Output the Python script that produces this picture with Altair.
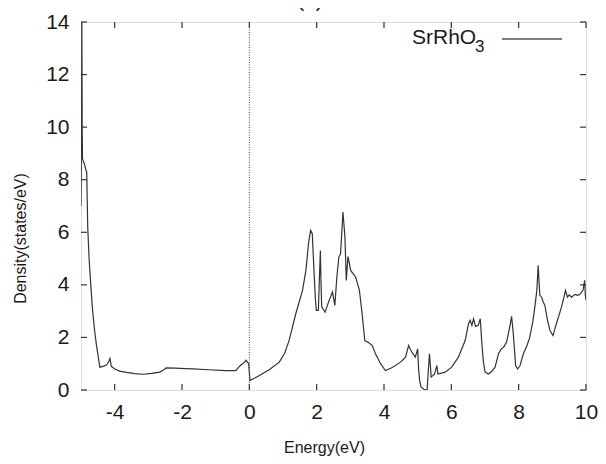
import altair as alt
import pandas as pd

# Energy (eV) and density of states (states/eV)
energy = [
    -5.0, -4.985, -4.975, -4.965, -4.955, -4.93, -4.9, -4.86, -4.83, -4.8, -4.76, -4.71,
    -4.66, -4.6, -4.54, -4.48, -4.44, -4.35, -4.24, -4.17, -4.14, -4.1, -4.0, -3.85,
    -3.65, -3.4, -3.16, -2.9, -2.66, -2.55, -2.47, -2.2, -1.9, -1.68, -1.2, -0.69,
    -0.4, -0.33, -0.25, -0.15, -0.1, -0.05, -0.02, 0.02, 0.3, 0.6, 0.89, 1.05,
    1.18, 1.38, 1.58, 1.68, 1.76, 1.82, 1.87, 1.9, 1.92, 1.96, 1.99, 2.05,
    2.08, 2.11, 2.13, 2.15, 2.25, 2.37, 2.47, 2.54, 2.6, 2.66, 2.71, 2.78,
    2.84, 2.88, 2.93, 3.01, 3.16, 3.27, 3.35, 3.43, 3.55, 3.65, 3.75, 3.9,
    4.04, 4.2, 4.34, 4.5, 4.64, 4.73, 4.8, 4.83, 4.93, 5.0, 5.03, 5.06,
    5.1, 5.18, 5.28, 5.32, 5.35, 5.38, 5.4, 5.5, 5.57, 5.6, 5.82, 6.01,
    6.21, 6.41, 6.51, 6.56, 6.61, 6.66, 6.72, 6.8, 6.86, 6.9, 6.95, 7.0,
    7.1, 7.2, 7.3, 7.4, 7.49, 7.55, 7.64, 7.72, 7.79, 7.84, 7.91, 7.97,
    8.04, 8.14, 8.25, 8.33, 8.42, 8.48, 8.54, 8.58, 8.61, 8.63, 8.68, 8.73,
    8.78, 8.85, 8.93, 9.02, 9.12, 9.2, 9.27, 9.33, 9.39, 9.45, 9.5, 9.57,
    9.67, 9.75, 9.82, 9.91, 9.96, 9.98, 10.0,
]
density = [
    7.0, 9.5, 14.5, 9.9, 8.8, 8.7, 8.6, 8.4, 8.3, 6.2, 5.0, 4.0,
    3.1, 2.3, 1.7, 1.2, 0.87, 0.9, 0.95, 1.1, 1.2, 0.9, 0.8, 0.72,
    0.67, 0.62, 0.6, 0.63, 0.68, 0.76, 0.84, 0.83, 0.81, 0.8, 0.77, 0.74,
    0.74, 0.85, 0.95, 1.05, 1.13, 1.05, 1.0, 0.36, 0.55, 0.78, 1.06, 1.4,
    1.88, 2.9, 3.79, 4.55, 5.6, 6.07, 5.95, 5.1, 4.55, 3.5, 3.03, 3.03,
    4.2, 5.31, 4.0, 3.16, 2.96, 3.41, 3.73, 3.22, 4.3, 5.06, 5.18, 6.77,
    5.82, 4.17, 5.08, 4.55, 4.29, 3.79, 2.9, 1.88, 1.8, 1.69, 1.37, 1.0,
    0.74, 0.83, 0.93, 1.07, 1.25, 1.69, 1.5, 1.44, 1.25, 1.56, 0.74, 0.35,
    0.12, 0.03, 0.0, 0.8, 1.38, 0.9, 0.49, 0.6, 0.93, 0.61, 0.68, 0.87,
    1.25, 1.88, 2.52, 2.65, 2.46, 2.71, 2.42, 2.46, 2.71, 1.88, 1.1, 0.68,
    0.61, 0.7, 0.87, 1.38, 1.57, 1.62, 1.82, 2.3, 2.8, 2.14, 0.93, 0.8,
    0.93, 1.38, 1.7, 2.01, 2.6, 3.15, 3.8, 4.74, 4.0, 3.6, 3.53, 3.35,
    3.21, 2.7, 2.26, 2.07, 2.52, 2.85, 3.15, 3.45, 3.79, 3.53, 3.62, 3.53,
    3.64, 3.6, 3.64, 3.79, 4.17, 3.6, 3.41,
]

x_ticks = [-4, -2, 0, 2, 4, 6, 8, 10]
y_ticks = [0, 2, 4, 6, 8, 10, 12, 14]
x_domain = [-5, 10]
y_domain = [0, 14]
fermi = [0]
series_name = "SrRhO"
series_sub = "3"
panel_label = "(a)"

W, H = 505, 368
FONT = "Liberation Sans"
TXT = "#1a1a1a"

xs = alt.Scale(domain=x_domain, nice=False, zero=False)
ys = alt.Scale(domain=y_domain, nice=False, zero=False)

df = pd.DataFrame({"x": energy, "y": density})
dxt = pd.DataFrame({"x": x_ticks})
dyt = pd.DataFrame({"y": y_ticks})

line = alt.Chart(df).mark_line(color="#333333", strokeWidth=1.2, clip=True).encode(
    x=alt.X("x:Q", scale=xs, axis=alt.Axis(
        values=x_ticks, title="Energy(eV)", labelFontSize=21, labelFont=FONT,
        labelColor=TXT, labelPadding=11, ticks=False, tickSize=0, domain=False,
        grid=False, titleFont=FONT, titleFontSize=16, titleFontWeight="normal",
        titleColor=TXT, titleX=243, titleY=57, titleAlign="center",
        titleBaseline="middle", labelFlush=False, labelExpr="'' + datum.value")),
    y=alt.Y("y:Q", scale=ys, axis=alt.Axis(
        values=y_ticks, title="Density(states/eV)", labelFontSize=21, labelFont=FONT,
        labelColor=TXT, labelPadding=12, ticks=False, tickSize=0, domain=False,
        grid=False, titleFont=FONT, titleFontSize=16, titleFontWeight="normal",
        titleColor=TXT, titleAngle=270, titleX=-61, titleY=216,
        titleAlign="center", titleBaseline="middle", labelFlush=False,
        labelExpr="'' + datum.value")),
)

zero_line = alt.Chart(pd.DataFrame({"x": fermi})).mark_rule(
    color="#444444", strokeWidth=1, strokeDash=[1, 1.5]
).encode(x=alt.X("x:Q", scale=xs))

bottom_ticks = alt.Chart(dxt).mark_rule(color="#333333", strokeWidth=1.2).encode(
    x=alt.X("x:Q", scale=xs), y=alt.value(H), y2=alt.value(H - 6))
top_ticks = alt.Chart(dxt).mark_rule(color="#333333", strokeWidth=1.2).encode(
    x=alt.X("x:Q", scale=xs), y=alt.value(0), y2=alt.value(6))
left_ticks = alt.Chart(dyt).mark_rule(color="#333333", strokeWidth=1.2).encode(
    y=alt.Y("y:Q", scale=ys), x=alt.value(0), x2=alt.value(6))
right_ticks = alt.Chart(dyt).mark_rule(color="#333333", strokeWidth=1.2).encode(
    y=alt.Y("y:Q", scale=ys), x=alt.value(W), x2=alt.value(W - 6))

leg_df = pd.DataFrame({"name": [series_name], "sub": [series_sub], "lab": [panel_label]})
leg_text = alt.Chart(leg_df).mark_text(
    font=FONT, fontSize=21, color=TXT, align="left", baseline="alphabetic"
).encode(text="name:N", x=alt.value(331), y=alt.value(21.5))
leg_sub = alt.Chart(leg_df).mark_text(
    font=FONT, fontSize=17, color=TXT, align="left", baseline="alphabetic"
).encode(text="sub:N", x=alt.value(394), y=alt.value(29.5))
leg_line = alt.Chart(leg_df).mark_rule(color="#555555", strokeWidth=1.5).encode(
    x=alt.value(421), x2=alt.value(481), y=alt.value(17))
title_text = alt.Chart(leg_df).mark_text(
    font=FONT, fontSize=21, color=TXT, align="center", baseline="alphabetic"
).encode(text="lab:N", x=alt.value(229), y=alt.value(-15))

chart = alt.layer(
    line, zero_line, bottom_ticks, top_ticks, left_ticks, right_ticks,
    leg_text, leg_sub, leg_line, title_text
).properties(
    width=W, height=H,
    autosize=alt.AutoSizeParams(type="none"),
    padding={"left": 73, "top": 14, "right": 12, "bottom": 66},
).configure_view(
    stroke="#2a2a2a", strokeWidth=1.5
).configure(background="white")

chart.save("out.html", embed_options={"renderer": "svg", "actions": False})
